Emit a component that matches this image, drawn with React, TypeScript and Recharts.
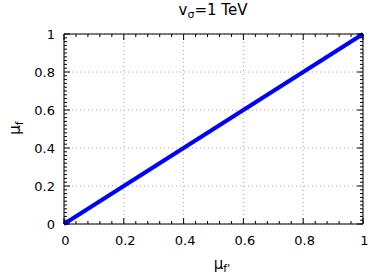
import { LineChart, Line, XAxis, YAxis, CartesianGrid } from "recharts";

// mu_f' (x) vs mu_f (y)
const muFPrime = [0, 0.2, 0.4, 0.6, 0.8, 1];
const muF = [0, 0.2, 0.4, 0.6, 0.8, 1];

const majorTicks = [0, 0.2, 0.4, 0.6, 0.8, 1];
const tickLabels = ["0", "0.2", "0.4", "0.6", "0.8", "1"];
const xMinorStep = 0.04;
const yMinorStep = 0.02;

const makeTicks = (step: number) =>
  Array.from({ length: Math.round(1 / step) + 1 }, (_, i) => +(i * step).toFixed(3));

const xTicks = makeTicks(xMinorStep);
const yTicks = makeTicks(yMinorStep);

const data = muFPrime.map((x, i) => ({ x, y: muF[i] }));

const FONT = "DejaVu Sans, sans-serif";
const MAJOR = 6;
const MINOR = 3;

const isMajor = (v: number) => Math.abs(v * 5 - Math.round(v * 5)) < 1e-6;
const labelOf = (v: number) => tickLabels[majorTicks.findIndex((t) => Math.abs(t - v) < 1e-6)];

function BottomTick({ x, y, payload }: any) {
  const major = isMajor(payload.value);
  return (
    <g>
      <line x1={x} x2={x} y1={y} y2={y - (major ? MAJOR : MINOR)} stroke="#000" />
      {major && (
        <text x={x + 1.5} y={y + 21} textAnchor="middle" fontSize={13} fontFamily={FONT} fill="#000">
          {labelOf(payload.value)}
        </text>
      )}
    </g>
  );
}

function TopTick({ x, y, payload }: any) {
  const major = isMajor(payload.value);
  return <line x1={x} x2={x} y1={y} y2={y + (major ? MAJOR : MINOR)} stroke="#000" />;
}

function LeftTick({ x, y, payload }: any) {
  const major = isMajor(payload.value);
  return (
    <g>
      <line x1={x} x2={x + (major ? MAJOR : MINOR)} y1={y} y2={y} stroke="#000" />
      {major && (
        <text x={x - 9} y={y + 4.5} textAnchor="end" fontSize={13} fontFamily={FONT} fill="#000">
          {labelOf(payload.value)}
        </text>
      )}
    </g>
  );
}

function RightTick({ x, y, payload }: any) {
  const major = isMajor(payload.value);
  return <line x1={x} x2={x - (major ? MAJOR : MINOR)} y1={y} y2={y} stroke="#000" />;
}

export default function App() {
  return (
    <div style={{ position: "absolute", left: 0, top: 0, width: 374, height: 278 }}>
      <LineChart width={374} height={278} data={data} margin={{ top: 4, right: 1, bottom: 24, left: 0 }}>
        <XAxis xAxisId="g" type="number" dataKey="x" domain={[0, 1]} ticks={majorTicks} hide />
        <YAxis yAxisId="g" type="number" dataKey="y" domain={[0, 1]} ticks={majorTicks} hide />
        <CartesianGrid xAxisId="g" yAxisId="g" stroke="#a8a8a8" strokeDasharray="1 3" />
        <XAxis
          type="number"
          dataKey="x"
          domain={[0, 1]}
          ticks={xTicks}
          interval={0}
          height={30}
          tickSize={0}
          tickMargin={0}
          tickLine={false}
          axisLine={{ stroke: "#000" }}
          tick={<BottomTick />}
        />
        <XAxis
          xAxisId="top"
          orientation="top"
          type="number"
          dataKey="x"
          domain={[0, 1]}
          ticks={xTicks}
          interval={0}
          height={30}
          tickSize={0}
          tickMargin={0}
          tickLine={false}
          axisLine={{ stroke: "#000" }}
          tick={<TopTick />}
        />
        <YAxis
          type="number"
          dataKey="y"
          domain={[0, 1]}
          ticks={yTicks}
          interval={0}
          width={64}
          tickSize={0}
          tickMargin={0}
          tickLine={false}
          axisLine={{ stroke: "#000" }}
          tick={<LeftTick />}
        />
        <YAxis
          yAxisId="right"
          orientation="right"
          type="number"
          dataKey="y"
          domain={[0, 1]}
          ticks={yTicks}
          interval={0}
          width={10}
          tickSize={0}
          tickMargin={0}
          tickLine={false}
          axisLine={{ stroke: "#000" }}
          tick={<RightTick />}
        />
        <Line
          type="linear"
          dataKey="y"
          stroke="#0000ff"
          strokeWidth={4}
          dot={false}
          isAnimationActive={false}
        />
      </LineChart>
      <svg
        width={374}
        height={278}
        style={{ position: "absolute", left: 0, top: 0, pointerEvents: "none" }}
      >
        <text x={213} y={15} textAnchor="middle" fontSize={15} fontFamily={FONT} fill="#000">
          v<tspan dy={3} fontSize={11}>σ</tspan>
          <tspan dy={-3}>=1 TeV</tspan>
        </text>
        <text
          transform="translate(20,128) rotate(-90)"
          textAnchor="middle"
          fontSize={15}
          fontFamily={FONT}
          fill="#000"
        >
          μ<tspan dy={3} fontSize={11}>f</tspan>
        </text>
        <text x={222} y={269} textAnchor="middle" fontSize={15} fontFamily={FONT} fill="#000">
          μ<tspan dy={3} fontSize={11}>f'</tspan>
        </text>
      </svg>
    </div>
  );
}
